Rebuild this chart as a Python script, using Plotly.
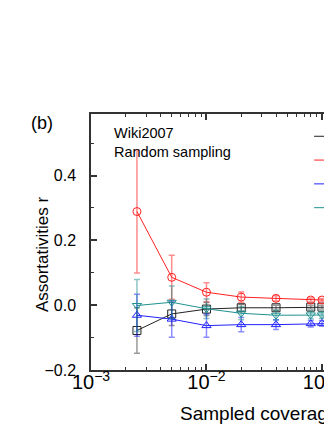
import plotly.graph_objects as go

# sampled coverage (fraction of nodes)
coverage = [0.0025, 0.005, 0.01, 0.02, 0.04, 0.08, 0.1, 0.2]

# four assortativity series with their standard deviations
r_out_in = [-0.078, -0.027, -0.012, -0.008, -0.008, -0.006, -0.006, -0.005]
r_out_in_err = [0.070, 0.036, 0.020, 0.010, 0.008, 0.006, 0.006, 0.005]
r_in_out = [0.289, 0.086, 0.040, 0.025, 0.021, 0.016, 0.016, 0.015]
r_in_out_err = [0.190, 0.068, 0.029, 0.016, 0.008, 0.006, 0.005, 0.004]
r_out_out = [-0.031, -0.043, -0.063, -0.060, -0.060, -0.057, -0.056, -0.055]
r_out_out_err = [0.065, 0.056, 0.036, 0.022, 0.015, 0.010, 0.009, 0.007]
r_in_in = [-0.001, 0.009, -0.011, -0.025, -0.031, -0.030, -0.030, -0.030]
r_in_in_err = [0.080, 0.050, 0.030, 0.020, 0.015, 0.012, 0.010, 0.008]

FONT = "Arial, Liberation Sans, sans-serif"

series = [
    ("r(out,in)", r_out_in, r_out_in_err, "#222222", "rgba(0,0,0,0.4)", "square-open"),
    ("r(in,out)", r_in_out, r_in_out_err, "#ff2020", "rgba(255,0,0,0.45)", "circle-open"),
    ("r(out,out)", r_out_out, r_out_out_err, "#2020ff", "rgba(0,0,255,0.45)", "triangle-up-open"),
    ("r(in,in)", r_in_in, r_in_in_err, "#1f9090", "rgba(0,128,128,0.45)", "triangle-down-open"),
]

fig = go.Figure()
for name, vals, errs, color, ecolor, symbol in series:
    fig.add_trace(
        go.Scatter(
            x=coverage,
            y=vals,
            name=name,
            mode="lines+markers",
            line=dict(color=color, width=1),
            marker=dict(symbol=symbol, size=8, color=color, line=dict(color=color, width=1)),
            error_y=dict(type="data", array=errs, visible=True, color=ecolor, thickness=1.5, width=3),
        )
    )

axis_common = dict(
    showline=True,
    linecolor="#333333",
    linewidth=1.5,
    ticks="inside",
    ticklen=6,
    tickwidth=1.5,
    tickcolor="#333333",
    showgrid=False,
    zeroline=False,
    tickfont=dict(family=FONT, size=16, color="black"),
)

# the page adds an 8px body margin, so size and margins are reduced by that amount;
# the plot runs to the right edge and the legend is clipped there, like the reference
fig.update_layout(
    width=324,
    height=422,
    margin=dict(l=83, r=0, t=106, b=60, autoexpand=False),
    plot_bgcolor="white",
    paper_bgcolor="white",
    font=dict(family=FONT, color="black"),
    xaxis=dict(
        axis_common,
        type="log",
        range=[-3, -0.913],
        dtick=1,
        exponentformat="power",
        mirror="allticks",
        ticklabelstandoff=-6,
        ticklabeloverflow="allow",
        minor=dict(ticks="inside", ticklen=3, dtick="D1", tickcolor="#333333", tickwidth=1),
    ),
    yaxis=dict(
        axis_common,
        range=[-0.2, 0.59],
        dtick=0.2,
        tickformat=".1f",
        ticklabelstandoff=10,
        minor=dict(ticks="inside", ticklen=3, dtick=0.1, tickcolor="#333333", tickwidth=1),
    ),
    legend=dict(
        x=0.905,
        y=0.979,
        xanchor="left",
        yanchor="top",
        bgcolor="rgba(0,0,0,0)",
        font=dict(family=FONT, size=16),
    ),
    annotations=[
        dict(text="(b)", x=-0.203, y=0.965, xref="paper", yref="paper",
             xanchor="center", yanchor="middle", showarrow=False, font=dict(size=18)),
        dict(text="Wiki2007<br>Random sampling", x=0.087, y=0.963, xref="paper", yref="paper",
             xanchor="left", yanchor="top", align="left", showarrow=False,
             font=dict(size=14.5)),
        dict(text="Assortativities r", x=-0.203, y=0.453, xref="paper", yref="paper",
             xanchor="center", yanchor="middle", textangle=-90, showarrow=False,
             font=dict(size=17)),
        dict(text="Sampled coverage", x=0.361, y=-0.168, xref="paper", yref="paper",
             xanchor="left", yanchor="middle", showarrow=False, font=dict(size=19)),
    ],
)

fig.write_html("out.html")
